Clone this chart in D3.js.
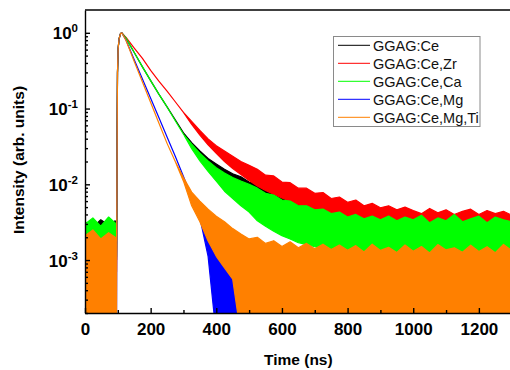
<!DOCTYPE html>
<html><head><meta charset="utf-8">
<script src="https://cdn.jsdelivr.net/npm/d3@7"></script>
<style>body{margin:0;background:#fff}svg{display:block}</style>
</head><body><svg id="c" width="510" height="370"></svg>
<script>
// ---------- data ----------
const timeNs = [0,24,48,72,92,96,97,98,99,101,104,108,112,125,150,175,200,225,250,275,300,325,350,375,400,425,450,475,500,525,550,575,600,625,650,675,700,725,750,775,800,825,850,875,900,925,950,975,1000,1025,1050,1075,1100,1125,1150,1175,1200,1225,1250,1275,1300];

// upper / lower edge of each trace (noise band) in arb. units
const ceHi = [0.0032,0.0027,0.0034,0.0029,0.0033,0.0026, 0.004,0.05,0.3,0.62,0.84,0.97,1,
  0.85,0.55,0.355,0.234,0.155,0.105,0.0708,0.0479,
  0.0355,0.0275,0.0219,0.0186,0.0158,0.0138,0.0126,0.0107,0.0102,0.0083,0.0083,0.0068,0.0069,0.0056,0.0059,0.0049,0.0051,0.0044,0.0046,0.0040,0.0042,0.0036,0.0039,0.0035,0.0037,0.0033,0.0036,
  0.0032,0.0036,0.0032,0.0035,0.0032,0.0036,0.0031,0.0035,0.0032,0.0036,0.0031,0.0035,0.0032];
const ceLo = [0.0010,0.0011,0.0009,0.0010,0.0011,0.0010, 0.004,0.05,0.3,0.62,0.84,0.97,1,
  0.85,0.55,0.355,0.234,0.155,0.105,0.0708,0.0479,
  0.0324,0.0240,0.0182,0.0141,0.0115,0.0095,0.0079,0.0069,0.0058,0.0051,0.0046,0.0042,0.0038,0.0035,0.0032,0.0030,0.0028,0.0027,0.0026,0.0025,0.0023,0.0022,0.0022,0.0021,0.0021,0.0020,0.0020,
  0.0019,0.0019,0.0019,0.0019,0.0019,0.0019,0.0019,0.0019,0.0019,0.0019,0.0019,0.0019,0.0019];

const zrHi = [0.0024,0.0030,0.0022,0.0027,0.0023,0.0021, 0.004,0.05,0.3,0.62,0.84,0.97,1,
  0.87,0.63,0.46,0.32,0.23,0.17,0.123,0.089,
  0.0676,0.0513,0.0398,0.0324,0.0275,0.0234,0.0200,0.0178,0.0158,0.0132,0.0129,0.0107,0.0105,0.0089,0.0089,0.0076,0.0078,0.0065,0.0068,0.0058,0.0062,0.0052,0.0056,0.0049,0.0052,0.0046,0.0050,
  0.0045,0.0041,0.0048,0.0042,0.0046,0.0040,0.0044,0.0047,0.0040,0.0045,0.0041,0.0044,0.0039];
const zrLo = [0.0007,0.0008,0.0007,0.0008,0.0007,0.0007, 0.004,0.05,0.3,0.62,0.84,0.97,1,
  0.87,0.63,0.46,0.32,0.23,0.17,0.123,0.089,
  0.0617,0.0447,0.0331,0.0257,0.0200,0.0162,0.0135,0.0112,0.0095,0.0083,0.0074,0.0066,0.0060,0.0054,0.0049,0.0046,0.0043,0.0040,0.0037,0.0035,0.0034,0.0032,0.0031,0.0030,0.0029,0.0028,0.0028,
  0.0027,0.0026,0.0026,0.0026,0.0026,0.0025,0.0025,0.0025,0.0025,0.0025,0.0025,0.0024,0.0024];

const caHi = [0.0030,0.0036,0.0028,0.0037,0.0031,0.0027, 0.004,0.05,0.3,0.62,0.84,0.97,1,
  0.85,0.55,0.355,0.234,0.155,0.105,0.069,0.0457,
  0.0339,0.0257,0.0204,0.0166,0.0141,0.0123,0.0110,0.0100,0.0089,0.0076,0.0072,0.0062,0.0060,0.0052,0.0052,0.0046,0.0047,0.0041,0.0043,0.0037,0.0040,0.0035,0.0038,0.0034,0.0038,0.0033,0.0037,
  0.0034,0.0039,0.0031,0.0036,0.0033,0.0040,0.0032,0.0035,0.0038,0.0031,0.0037,0.0034,0.0032];
const caLo = [0.0011,0.0012,0.0010,0.0012,0.0011,0.0011, 0.004,0.05,0.3,0.62,0.84,0.97,1,
  0.85,0.55,0.355,0.234,0.155,0.105,0.069,0.0457,
  0.0295,0.0204,0.0148,0.0110,0.0081,0.0065,0.0052,0.0043,0.0033,0.0028,0.0024,0.0021,0.0019,0.0017,0.0016,0.0015,0.0014,0.00135,0.0013,0.00126,0.0012,0.0012,0.0012,0.0012,0.0012,0.0012,0.0012,
  0.0012,0.0012,0.0012,0.0012,0.0012,0.0012,0.0012,0.0012,0.0012,0.0012,0.0012,0.0012,0.0012];

const mgHi = [0.0014,0.0018,0.0012,0.0016,0.0013,0.0011, 0.004,0.05,0.3,0.62,0.84,0.97,1,
  0.80,0.44,0.245,0.137,0.076,0.042,0.0235,0.0127,
  0.0068,0.0036,0.0024,0.00178,0.00158,0.00126,0.0010,0.0009,0.0012,0.0009,0.0012,0.0009,0.0012,0.0009,0.0012,0.0009,0.0012,0.0009,0.0012,0.0009,0.0012,0.0009,0.0012,0.0009,0.0012,0.0009,0.0012,
  0.0009,0.0012,0.0009,0.0012,0.0009,0.0012,0.0009,0.0012,0.0009,0.0012,0.0009,0.0012,0.0009];
const mgLo = [0.0001,0.0001,0.0001,0.0001,0.0001,0.0001, 0.004,0.05,0.3,0.62,0.84,0.97,1,
  0.80,0.44,0.245,0.137,0.076,0.042,0.0235,0.0127,
  0.0068,0.0036,0.00112,0.0001,0.0001,0.0001,0.0001,0.0001,0.0001,0.0001,0.0001,0.0001,0.0001,0.0001,0.0001,0.0001,0.0001,0.0001,0.0001,0.0001,0.0001,0.0001,0.0001,0.0001,0.0001,0.0001,0.0001,
  0.0001,0.0001,0.0001,0.0001,0.0001,0.0001,0.0001,0.0001,0.0001,0.0001,0.0001,0.0001,0.0001];

const mgTiHi = [0.0021,0.0025,0.0019,0.0023,0.0020,0.0018, 0.004,0.05,0.3,0.62,0.84,0.97,1,
  0.79,0.417,0.224,0.12,0.0646,0.0347,0.020,0.0123,
  0.0079,0.0060,0.0047,0.0038,0.0032,0.0026,0.0022,0.0019,0.0020,0.00166,0.0018,0.00151,0.00174,0.00145,0.00166,0.00141,0.00162,0.00138,0.00158,0.00135,
  0.00155,0.00128,0.00162,0.00134,0.00147,0.00126,0.00158,0.00131,0.00151,0.00124,0.00160,0.00136,0.00145,0.00127,0.00157,0.00130,0.00150,0.00125,0.00161,0.00133];
const mgTiLo = [0.0001,0.0001,0.0001,0.0001,0.0001,0.0001, 0.004,0.05,0.3,0.62,0.84,0.97,1,
  0.79,0.417,0.224,0.12,0.0646,0.0347,0.020,0.0110,
  0.0052,0.0032,0.00178,0.00112,0.00079,0.00056,0.0001,0.0001,0.0001,0.0001,0.0001,0.0001,0.0001,0.0001,0.0001,0.0001,0.0001,0.0001,0.0001,0.0001,0.0001,0.0001,0.0001,0.0001,0.0001,0.0001,0.0001,
  0.0001,0.0001,0.0001,0.0001,0.0001,0.0001,0.0001,0.0001,0.0001,0.0001,0.0001,0.0001,0.0001];

const seriesNames = ["GGAG:Ce","GGAG:Ce,Zr","GGAG:Ce,Ca","GGAG:Ce,Mg","GGAG:Ce,Mg,Ti"];
const seriesColors = ["#000000","#ff0000","#00ff00","#0000ff","#ff8000"];
const xTickValues = [0,200,400,600,800,1000,1200];
const xMinorTicks = [100,300,500,700,900,1100];
const yTickValues = [1,0.1,0.01,0.001];
const yTickExponents = ["0","-1","-2","-3"];
const xTitle = "Time (ns)";
const yTitle = "Intensity (arb. units)";

// ---------- drawing ----------
const FONT = "'Liberation Sans', Arial, sans-serif";
const svg = d3.select("#c");
const L = 85, R = 511.7, T = 10, B = 313;
const x = d3.scaleLinear().domain([0,1300]).range([L,R]);
const y = d3.scaleLog().domain([2e-4,2]).range([B,T]);

svg.append("defs").append("clipPath").attr("id","clip")
  .append("rect").attr("x",L).attr("y",T).attr("width",R-L).attr("height",B-T);

const bands = [[ceHi,ceLo],[zrHi,zrLo],[caHi,caLo],[mgHi,mgLo],[mgTiHi,mgTiLo]];
const area = d3.area().x(d=>x(d.t)).y0(d=>y(d.lo)).y1(d=>y(d.hi));
const g = svg.append("g").attr("clip-path","url(#clip)");
bands.forEach(([hi,lo],i)=>{
  const pts = timeNs.map((t,k)=>({t,hi:hi[k],lo:lo[k]}));
  g.append("path").datum(pts).attr("d",area)
    .attr("fill",seriesColors[i]).attr("stroke",seriesColors[i])
    .attr("stroke-width",1.2).attr("stroke-linejoin","round");
});

// axes
const xAxis = d3.axisBottom(x).tickValues(xTickValues).tickSize(-5).tickSizeOuter(0).tickPadding(10).tickFormat(d3.format("d"));
const gx = svg.append("g").attr("transform",`translate(0,${B})`).call(xAxis);
gx.selectAll("text").attr("font-family",FONT).attr("font-size",17).attr("font-weight","bold").attr("fill","#000");
const gxm = svg.append("g").attr("transform",`translate(0,${B})`)
  .call(d3.axisBottom(x).tickValues(xMinorTicks).tickSize(-3).tickSizeOuter(0).tickFormat(""));
gxm.select(".domain").remove();

const yMinor = [];
[-4,-3,-2,-1,0].forEach(e=>{ for(let m=2;m<=9;m++){ const v=m*Math.pow(10,e); if(v>=2e-4 && v<1.99) yMinor.push(v);} });
const gy = svg.append("g").attr("transform",`translate(${L},0)`)
  .call(d3.axisLeft(y).tickValues(yTickValues).tickSize(-5).tickSizeOuter(0).tickFormat(""));
const gym = svg.append("g").attr("transform",`translate(${L},0)`)
  .call(d3.axisLeft(y).tickValues(yMinor).tickSize(-3).tickSizeOuter(0).tickFormat(""));
gym.select(".domain").remove();
[gx,gxm,gy,gym].forEach(a=>{ a.selectAll("path,line").attr("stroke","#000").attr("stroke-width",1.4); });

svg.append("line").attr("x1",L).attr("x2",R).attr("y1",T).attr("y2",T).attr("stroke","#000").attr("stroke-width",1.4);
svg.append("line").attr("x1",R).attr("x2",R).attr("y1",T).attr("y2",B).attr("stroke","#000").attr("stroke-width",1.4);

yTickValues.forEach((v,i)=>{
  const t = svg.append("text").attr("x",78).attr("y",y(v)+6.5).attr("text-anchor","end")
    .attr("font-family",FONT).attr("font-size",17).attr("font-weight","bold").attr("fill","#000");
  t.append("tspan").text("10");
  t.append("tspan").attr("dy",-7).attr("font-size",11.5).text(yTickExponents[i]);
});

svg.append("text").attr("x",(L+R)/2).attr("y",365).attr("text-anchor","middle")
  .attr("font-family",FONT).attr("font-size",15.5).attr("font-weight","bold").text(xTitle);
svg.append("text").attr("transform","translate(24,160) rotate(-90)").attr("text-anchor","middle")
  .attr("font-family",FONT).attr("font-size",15.5).attr("font-weight","bold").text(yTitle);

// legend
const lg = svg.append("g");
lg.append("rect").attr("x",333.5).attr("y",36.5).attr("width",146.5).attr("height",90)
  .attr("fill","#fff").attr("stroke","#8a8a8a").attr("stroke-width",1);
seriesNames.forEach((n,i)=>{
  const yy = 45.3 + i*18;
  lg.append("line").attr("x1",338).attr("x2",370).attr("y1",yy).attr("y2",yy)
    .attr("stroke",seriesColors[i]).attr("stroke-width",1);
  lg.append("text").attr("x",373).attr("y",yy+5.2).attr("font-family",FONT)
    .attr("font-size",14.5).attr("fill","#111").text(n);
});
</script></body></html>
